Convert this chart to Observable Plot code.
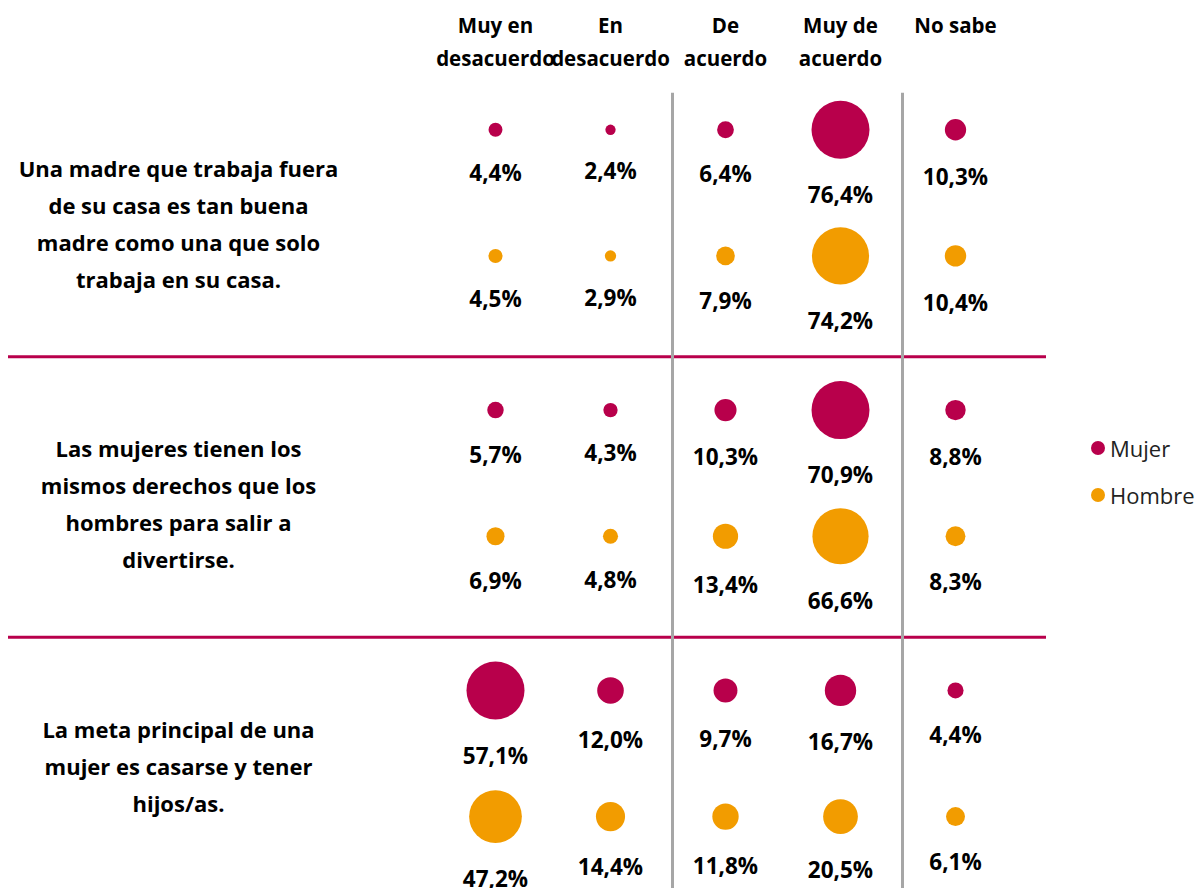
<!DOCTYPE html>
<html>
<head>
<meta charset="utf-8">
<script src="https://cdn.jsdelivr.net/npm/d3@7"></script>
<script src="https://cdn.jsdelivr.net/npm/@observablehq/plot@0.6"></script>
<style>
  html, body { margin: 0; padding: 0; background: #fff; }
  #wrap { position: relative; width: 1204px; height: 888px; overflow: hidden; }
  #legend { position: absolute; left: 1091px; top: 434px; font-family: "Open Sans", sans-serif; font-size: 22px; color: #222; }
  #legend .item { display: flex; align-items: center; height: 28px; margin-bottom: 19px; }
  #legend .sw { width: 14px; height: 14px; border-radius: 50%; margin-right: 5px; }
</style>
</head>
<body>
<div id="wrap"></div>
<script>
const columns = ["Muy en\ndesacuerdo", "En\ndesacuerdo", "De\nacuerdo", "Muy de\nacuerdo", "No sabe"];
const statements = [
  "Una madre que trabaja fuera\nde su casa es tan buena\nmadre como una que solo\ntrabaja en su casa.",
  "Las mujeres tienen los\nmismos derechos que los\nhombres para salir a\ndivertirse.",
  "La meta principal de una\nmujer es casarse y tener\nhijos/as."
];
const genders = ["Mujer", "Hombre"];
const genderColors = ["#B8004B", "#F29C00"];
const mujer = [
  [4.4, 2.4, 6.4, 76.4, 10.3],
  [5.7, 4.3, 10.3, 70.9, 8.8],
  [57.1, 12.0, 9.7, 16.7, 4.4]
];
const hombre = [
  [4.5, 2.9, 7.9, 74.2, 10.4],
  [6.9, 4.8, 13.4, 66.6, 8.3],
  [47.2, 14.4, 11.8, 20.5, 6.1]
];
// dividers: after "En desacuerdo" and after "Muy de acuerdo"
const dividerAfter = [columns[1], columns[3]];

// layout
const rMax = 29;
const yTop = 76, yBottom = 917;
const unitPx = (yBottom - yTop) / statements.length;
const genderOffset = {Mujer: 0.19, Hombre: 0.64};

const rows = [];
statements.forEach((s, i) => {
  const max = d3.max([...mujer[i], ...hombre[i]]);
  genders.forEach(g => {
    const vals = g === "Mujer" ? mujer[i] : hombre[i];
    vals.forEach((v, j) => {
      rows.push({i, g, col: columns[j], v, max, y: i + genderOffset[g]});
    });
  });
});
const fmt = v => v.toFixed(1).replace(".", ",") + "%";
const font = "'Open Sans', sans-serif";

const chart = Plot.plot({
  width: 1204,
  height: 888,
  marginTop: 0, marginBottom: 0, marginLeft: 8, marginRight: 158,
  x: {type: "point", domain: columns, range: [495, 955], padding: 0, axis: null},
  y: {type: "linear", domain: [0, statements.length], range: [yTop, yBottom], axis: null},
  r: {type: "sqrt", domain: [0, 1], range: [0, rMax]},
  color: {domain: genders, range: genderColors},
  style: {fontFamily: font, background: "transparent"},
  marks: [
    Plot.ruleY(d3.range(1, statements.length), {y: d => d, stroke: "#B8004B", strokeWidth: 3}),
    Plot.ruleX(dividerAfter, {x: d => d, dx: 62, y1: 0.06, y2: statements.length, stroke: "#A6A6A6", strokeWidth: 3}),
    Plot.text(columns, {x: d => d, frameAnchor: "top", lineAnchor: "top", dy: 9, text: d => d,
      fontSize: 20.5, fontWeight: "bold", lineHeight: 1.6, fill: "#000"}),
    Plot.text(statements, {y: (d, i) => i + 0.265, frameAnchor: "left", dx: 170, lineAnchor: "top",
      textAnchor: "middle", text: d => d, fontSize: 22, fontWeight: "bold", lineHeight: 1.68, fill: "#000"}),
    Plot.dot(rows, {x: "col", y: "y", r: d => d.v / d.max, fill: "g", stroke: "none"}),
    Plot.text(rows, {x: "col", y: d => d.y + rMax * Math.sqrt(d.v / d.max) / unitPx, dy: 37,
      text: d => fmt(d.v), fontSize: 22.5, fontWeight: "bold", fill: "#000", lineAnchor: "middle"})
  ]
});
const wrap = document.getElementById("wrap");
wrap.appendChild(chart);

const legend = document.createElement("div");
legend.id = "legend";
genders.forEach((g, k) => {
  const item = document.createElement("div");
  item.className = "item";
  const sw = document.createElement("span");
  sw.className = "sw";
  sw.style.background = genderColors[k];
  const t = document.createElement("span");
  t.textContent = g;
  item.appendChild(sw); item.appendChild(t);
  legend.appendChild(item);
});
wrap.appendChild(legend);
</script>
</body>
</html>
